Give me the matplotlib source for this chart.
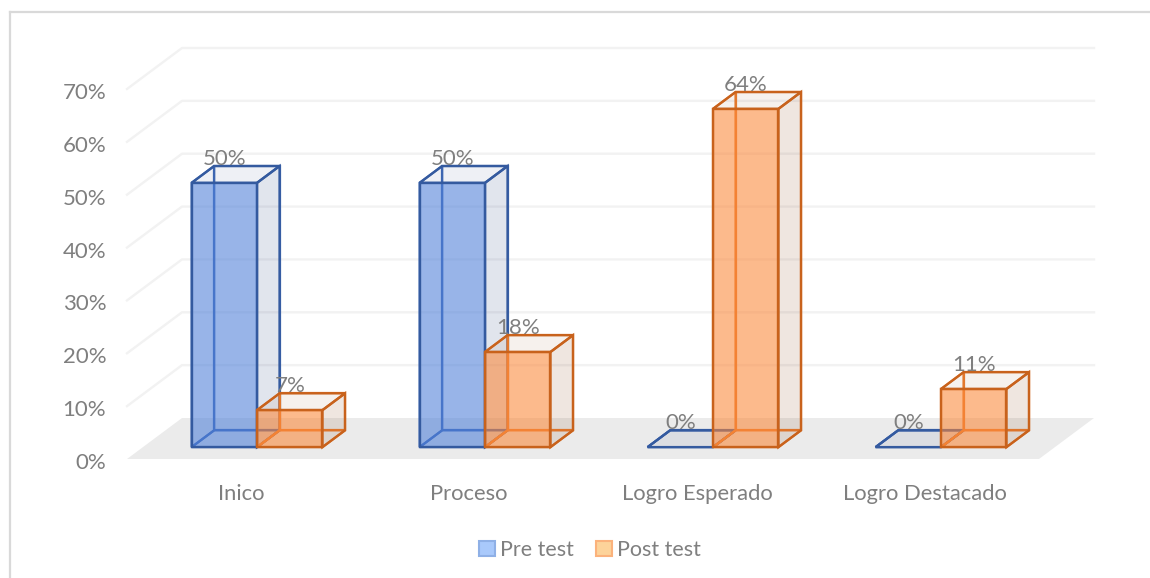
import matplotlib
matplotlib.use("Agg")
import matplotlib.pyplot as plt
from matplotlib.patches import Patch, Polygon
from matplotlib.transforms import ScaledTranslation

categories = ["Inico", "Proceso", "Logro Esperado", "Logro Destacado"]
pre_test = [50, 50, 0, 0]
post_test = [7, 18, 64, 11]
y_ticks = [0, 10, 20, 30, 40, 50, 60, 70]

plt.rcParams["font.family"] = ["Lato", "DejaVu Sans"]
TEXT = "#7f7f7f"

W, H = 1150, 578
fig = plt.figure(figsize=(W / 100, H / 100), dpi=100)
ax = fig.add_axes([127 / W, (H - 459) / H, 912 / W, 370 / H])
ax.set_xlim(0, 4)
ax.set_ylim(0, 70)
for s in ax.spines.values():
    s.set_visible(False)

# 3d look: depth d (0 front, 1 back) shifts a point right and up
DX = 55 / 228
DY = 41 / 5.286


def pt(x, v, d):
    return (x + d * DX, v + d * DY)


# floor
ax.add_patch(Polygon([pt(0, 0, 0), pt(4, 0, 0), pt(4, 0, 1), pt(0, 0, 1)],
                     fc="#ebebeb", ec="none", clip_on=False, zorder=1))

# gridlines, side wall then back wall
for v in y_ticks[1:]:
    xs, ys = zip(pt(0, v, 0), pt(0, v, 1), pt(4, v, 1))
    ax.plot(xs, ys, color="#f2f2f2", lw=1.7, clip_on=False, zorder=1)


def draw_bar(x0, w, v, fill, shade, edge, inner):
    d0, d1 = 0.29, 0.70
    x1 = x0 + w
    zo = 3
    # faces behind
    back = [pt(x0, 0, d1), pt(x1, 0, d1), pt(x1, v, d1), pt(x0, v, d1)]
    left = [pt(x0, 0, d0), pt(x0, 0, d1), pt(x0, v, d1), pt(x0, v, d0)]
    floor = [pt(x0, 0, d0), pt(x1, 0, d0), pt(x1, 0, d1), pt(x0, 0, d1)]
    for f in (back, left, floor):
        ax.add_patch(Polygon(f, fc=shade, alpha=0.04, ec="none", clip_on=False, zorder=zo))
        ax.add_patch(Polygon(f, fc="none", ec=inner, lw=1.6, clip_on=False, zorder=zo))
    # faces in front
    right = [pt(x1, 0, d0), pt(x1, 0, d1), pt(x1, v, d1), pt(x1, v, d0)]
    top = [pt(x0, v, d0), pt(x1, v, d0), pt(x1, v, d1), pt(x0, v, d1)]
    front = [pt(x0, 0, d0), pt(x1, 0, d0), pt(x1, v, d0), pt(x0, v, d0)]
    ax.add_patch(Polygon(right, fc=shade, alpha=0.09, ec="none", clip_on=False, zorder=zo))
    ax.add_patch(Polygon(right, fc="none", ec=edge, lw=1.7, clip_on=False, zorder=zo))
    ax.add_patch(Polygon(top, fc=shade, alpha=0.03, ec="none", clip_on=False, zorder=zo))
    ax.add_patch(Polygon(top, fc="none", ec=edge, lw=1.7, clip_on=False, zorder=zo))
    if v > 0:
        ax.add_patch(Polygon(front, fc=fill, alpha=0.56, ec="none", clip_on=False, zorder=zo))
        ax.add_patch(Polygon(front, fc="none", ec=edge, lw=1.7, clip_on=False, zorder=zo))
    xt, yt = pt(x0 + w / 2, v, d0)
    ax.text(xt, yt + 24 / 5.286, f"{v}%", ha="center", va="center",
            color=TEXT, fontsize=16, zorder=6, clip_on=False)


GAP = 0.2134
BW = 0.287
for i in range(len(categories)):
    draw_bar(i + GAP, BW, pre_test[i], "#4f81dc", "#18377c", "#345a9f", "#3f68b4")
    draw_bar(i + GAP + BW, BW, post_test[i], "#ff8a3a", "#843f11", "#c8621c", "#e67a2e")

ax.set_yticks(y_ticks)
ax.set_yticklabels([f"{v}%" for v in y_ticks], fontsize=16, color=TEXT)
ax.set_xticks([i + 0.5 for i in range(len(categories))])
ax.set_xticklabels(categories, fontsize=15.8, color=TEXT)
ax.tick_params(axis="y", length=0, pad=15)
ax.tick_params(axis="x", length=0, pad=18)

# nudge the value labels down a little
for lab in ax.get_yticklabels():
    lab.set_transform(lab.get_transform() + ScaledTranslation(0, -2 / 100, fig.dpi_scale_trans))

# chart border, only top and left fall inside the canvas
fig.add_artist(plt.Line2D([9.5 / W, 9.5 / W], [0, (H - 12) / H], color="#d9d9d9", lw=1.6))
fig.add_artist(plt.Line2D([9.5 / W, 1], [(H - 12) / H, (H - 12) / H], color="#d9d9d9", lw=1.6))

handles = [Patch(fc="#a9c9fb", ec="#8fb0e6", lw=1.5, label="Pre test"),
           Patch(fc="#fdd39a", ec="#fbb27c", lw=1.5, label="Post test")]
fig.legend(handles=handles, loc="center", bbox_to_anchor=(590 / W, (H - 550) / H), ncol=2,
           frameon=False, fontsize=15.5, labelcolor=TEXT, handlelength=0.75, handleheight=0.75,
           handletextpad=0.25, columnspacing=1.0)

fig.savefig("out.png", dpi=100)
